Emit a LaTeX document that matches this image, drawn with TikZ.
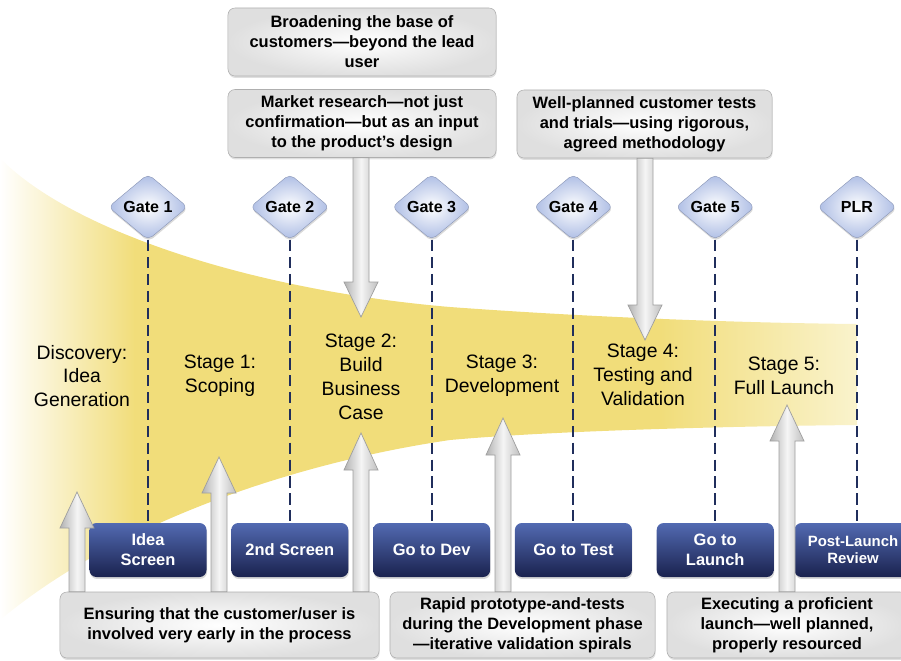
\documentclass[tikz,border=0pt]{standalone}
\usepackage{fontspec}
\setmainfont{Liberation Sans}
\usetikzlibrary{shapes.geometric, shadows, calc}

\definecolor{funnelyel}{RGB}{241,221,122}
\definecolor{funnellt}{RGB}{250,243,205}
\definecolor{navtop}{RGB}{82,106,178}
\definecolor{navbot}{RGB}{26,34,78}
\definecolor{gateblue}{RGB}{172,188,228}
\definecolor{dashnavy}{RGB}{32,46,92}
\definecolor{noteedge}{RGB}{175,175,175}

\pgfdeclarelayer{background}
\pgfsetlayers{background,main}

% gray block arrow: from, tip, head length
\newcommand{\bigarrow}[3]{\shadedraw[bigarrowstyle] ($(#1)+(-8,0)$) --
  ($(#2)+(-8,#3)$) -- ($(#2)+(-17,#3)$) -- (#2) -- ($(#2)+(17,#3)$) --
  ($(#2)+(8,#3)$) -- ($(#1)+(8,0)$) -- cycle;}

\begin{document}
\begin{tikzpicture}[x=0.025cm, y=-0.025cm, align=center,
  gate/.style={diamond, rounded corners=4pt, inner sep=0pt,
    minimum width=1.975cm, minimum height=1.65cm, inner color=white,
    outer color=gateblue, draw=gateblue!80!black, line width=.3pt,
    drop shadow={opacity=.3, shadow xshift=.4pt, shadow yshift=-1.4pt},
    font=\bfseries\fontsize{11.4}{13}\selectfont},
  gatebox/.style={rectangle, rounded corners=5pt, minimum width=2.925cm,
    minimum height=1.35cm, top color=navtop, bottom color=navbot, text=white,
    drop shadow={opacity=.3, shadow xshift=.4pt, shadow yshift=-1.4pt},
    font=\bfseries\fontsize{11.7}{14.2}\selectfont},
  note/.style={rectangle, rounded corners=5pt, inner color=white,
    outer color=gray!25, draw=noteedge, line width=.4pt, minimum height=1.7cm,
    drop shadow={opacity=.25, shadow xshift=.4pt, shadow yshift=-1.4pt},
    font=\bfseries\fontsize{11.7}{14.2}\selectfont},
  stagetext/.style={font=\fontsize{13.8}{17}\selectfont},
  gateline/.style={dashnavy, line width=1.3pt, dash pattern=on 8pt off 4pt},
  bigarrowstyle/.style={left color=gray!60, right color=gray!50,
    middle color=gray!8, draw=gray!75, line width=.5pt}]

\useasboundingbox (0,0) rectangle (901,660);
\clip (0,0) rectangle (901,660);

% Funnel
\begin{pgfonlayer}{background}
\begin{scope}
\clip (0,158) .. controls (70,230) and (250,290) .. (450,307)
  .. controls (600,318) and (750,323) .. (857,324) -- (857,425)
  .. controls (750,426) and (560,430) .. (450,440)
  .. controls (300,462) and (120,520) .. (0,620) -- cycle;
\shade[left color=white, right color=funnelyel] (0,150) rectangle (135,640);
\fill[funnelyel] (134,150) rectangle (661,640);
\shade[left color=funnelyel, right color=funnellt] (660,150) rectangle (858,640);
\end{scope}
\end{pgfonlayer}

% Gates
\foreach \t [count=\i] in {Gate 1, Gate 2, Gate 3, Gate 4, Gate 5, PLR}
  \node[gate] (g\i) at ({148+141.8*(\i-1)},207) {\t};

% Gate decisions
\foreach \t [count=\i] in {{Idea\\Screen}, 2nd Screen, Go to Dev, Go to Test,
  {Go to\\Launch}} \node[gatebox] (b\i) at ({148+141.8*(\i-1)},550) {\t};
\node[gatebox, font=\bfseries\fontsize{10.6}{12}\selectfont] (b6) at (853,550)
  {Post-Launch\\Review};

\foreach \i in {1,...,6} \draw[gateline] (g\i) -- (g\i |- b\i.north);

% Stages
\node[stagetext] (s0) at (82,376) {Discovery:\\Idea\\Generation};
\node[stagetext] (s1) at (220,376) {Stage 1:\\Scoping};
\node[stagetext] (s2) at (361,377) {Stage 2:\\Build\\Business\\Case};
\node[stagetext] (s3) at (502,376) {Stage 3:\\Development};
\node[stagetext] (s4) at (643,375) {Stage 4:\\Testing and\\Validation};
\node[stagetext] (s5) at (784,376) {Stage 5:\\Full Launch};

% Notes top
\node[note, minimum width=6.7cm] (n1) at (362,42)
  {Broadening the base of\\customers---beyond the lead\\user};
\node[note, minimum width=6.7cm] (n2) at (362,123.5)
  {Market research---not just\\confirmation---but as an input\\to the product's design};
\node[note, minimum width=6.375cm] (n3) at (644.5,124)
  {Well-planned customer tests\\and trials---using rigorous,\\agreed methodology};

% Notes bottom
\node[note, minimum width=7.975cm, minimum height=1.65cm] (n4) at (219.5,625)
  {Ensuring that the customer/user is\\involved very early in the process};
\node[note, minimum width=6.625cm, minimum height=1.65cm] (n5) at (522.5,625)
  {Rapid prototype-and-tests\\during the Development phase\\---iterative validation spirals};
\node[note, minimum width=6cm, minimum height=1.65cm] (n6) at (787,625)
  {Executing a proficient\\launch---well planned,\\properly resourced};

% Arrows down
\coordinate (tm) at (361,317); \coordinate (fm) at (tm |- n2.south);
\coordinate (tw) at (645,340); \coordinate (fw) at (tw |- n3.south);
\bigarrow{fm}{tm}{-35}
\bigarrow{fw}{tw}{-35}

% Arrows up
\coordinate (ta) at (77,492); \coordinate (fa) at (ta |- n4.north);
\coordinate (tb) at (219,457); \coordinate (fb) at (tb |- n4.north);
\coordinate (tc) at (361,433); \coordinate (fc) at (tc |- n4.north);
\coordinate (td) at (503,418); \coordinate (fd) at (td |- n5.north);
\coordinate (te) at (787,405); \coordinate (fe) at (te |- n6.north);
\bigarrow{fa}{ta}{36}
\bigarrow{fb}{tb}{36}
\bigarrow{fc}{tc}{37}
\bigarrow{fd}{td}{37}
\bigarrow{fe}{te}{36}

\end{tikzpicture}
\end{document}
